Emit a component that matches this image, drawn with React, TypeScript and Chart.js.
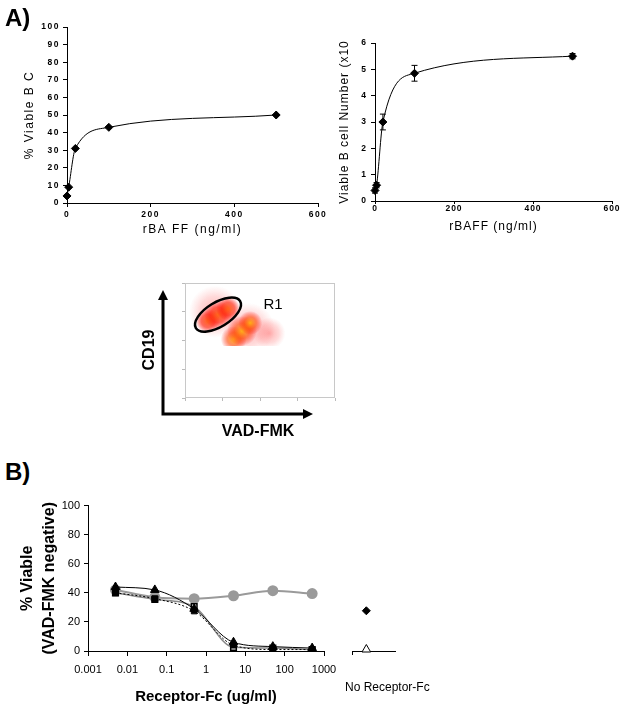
import React, { useEffect, useRef } from 'react';
import { Chart, registerables } from 'chart.js';

Chart.register(...registerables);

const FONT = "'Liberation Sans', Arial, Helvetica, sans-serif";

// ---------- Panel A : rBAFF dose response ----------
const baffConcentration = [0, 4, 20, 100, 500];
const viableBCellPercent = [4, 9, 31, 43, 50];
const viableBCellNumber = [0.4, 0.6, 3.0, 4.85, 5.5];
const viableBCellNumberErr = [0.1, 0.1, 0.3, 0.3, 0.1];
const panelAXTicks = [0, 200, 400, 600];
const percentTicks = [0, 10, 20, 30, 40, 50, 60, 70, 80, 90, 100];
const numberTicks = [0, 1, 2, 3, 4, 5, 6];

// ---------- Flow cytometry plot (log decades 0..4) ----------
const flowTicks = [0, 1, 2, 3, 4];
const haloX = [0.8, 1.7, 2.25];
const haloY = [3.0, 2.4, 2.25];
const haloR = [26, 26, 16];
const liveX = [0.61, 0.88, 1.15];
const liveY = [2.68, 2.89, 3.1];
const liveR = [12, 14, 12];
const apoptoticX = [1.3, 1.52, 1.74];
const apoptoticY = [2.05, 2.33, 2.61];
const apoptoticR = [13, 15, 12];
const gateAxisX = [0.29, 1.47];
const gateAxisY = [2.43, 3.37];
const gateMinorRatio = 0.47;

// ---------- Panel B : Receptor-Fc inhibition ----------
const receptorFcConc = [0.005, 0.05, 0.5, 5, 50, 500];
const controlFc = [42, 37, 36, 38, 41.5, 39.5];
const receptorTriangle = [44, 42, 29, 6, 3, 2];
const receptorOpenSquare = [40, 35.5, 30.5, 2.5, 2, 1];
const receptorFilledSquare = [40, 36, 27.5, 4, 1, 1];
const logTicks = [0.001, 0.01, 0.1, 1, 10, 100, 1000];
const viableTicks = [0, 20, 40, 60, 80, 100];
const noReceptorX = [1];
const noReceptorFilled = [27];
const noReceptorOpen = [1];
const noReceptorAxisTicks = [0];

const pts = (xs: number[], ys: number[]) => xs.map((x, i) => ({ x, y: ys[i] }));
const bubbles = (xs: number[], ys: number[], rs: number[]) => xs.map((x, i) => ({ x, y: ys[i], r: rs[i] }));
const setTicks = (vals: number[]) => (ax: any) => { ax.ticks = vals.map((v) => ({ value: v })); };

const spacingPlugin = (px: number) => ({
  id: 'spacing',
  beforeDraw(chart: any) { chart.ctx.letterSpacing = px + 'px'; },
  afterDraw(chart: any) { chart.ctx.letterSpacing = '0px'; },
});

const errorBarPlugin = {
  id: 'errorBars',
  afterDatasetsDraw(chart: any) {
    const ctx = chart.ctx;
    chart.data.datasets.forEach((ds: any, i: number) => {
      if (!ds.errors) return;
      const meta = chart.getDatasetMeta(i);
      const ys = chart.scales.y;
      ctx.save();
      ctx.strokeStyle = '#000';
      ctx.lineWidth = 1;
      meta.data.forEach((pt: any, j: number) => {
        const v = ds.data[j].y;
        const e = ds.errors[j];
        const t = ys.getPixelForValue(v + e);
        const b = ys.getPixelForValue(v - e);
        ctx.beginPath();
        ctx.moveTo(pt.x, t); ctx.lineTo(pt.x, b);
        ctx.moveTo(pt.x - 3, t); ctx.lineTo(pt.x + 3, t);
        ctx.moveTo(pt.x - 3, b); ctx.lineTo(pt.x + 3, b);
        ctx.stroke();
      });
      ctx.restore();
    });
  },
};

function radial(stops: [number, string][]) {
  return (c: any) => {
    const raw = c.raw;
    const ch = c.chart;
    if (!raw || !ch.scales || !ch.scales.x || !ch.scales.y) return stops[1][1];
    const x = ch.scales.x.getPixelForValue(raw.x);
    const y = ch.scales.y.getPixelForValue(raw.y);
    if (!Number.isFinite(x) || !Number.isFinite(y)) return stops[1][1];
    const g = ch.ctx.createRadialGradient(x, y, 0, x, y, Math.max(raw.r, 1));
    stops.forEach(([o, col]) => g.addColorStop(o, col));
    return g;
  };
}

const flowDecor = {
  id: 'flowDecor',
  beforeDatasetsDraw(chart: any) {
    const { ctx, chartArea: a } = chart;
    ctx.save();
    ctx.strokeStyle = '#c8c8c8';
    ctx.lineWidth = 1;
    ctx.strokeRect(a.left + 0.5, a.top + 0.5, a.width - 1, a.height - 1);
    ctx.restore();
  },
  afterDatasetsDraw(chart: any) {
    const { ctx, chartArea: a, scales } = chart;
    const sx = scales.x, sy = scales.y;
    const x1 = sx.getPixelForValue(gateAxisX[0]), y1 = sy.getPixelForValue(gateAxisY[0]);
    const x2 = sx.getPixelForValue(gateAxisX[1]), y2 = sy.getPixelForValue(gateAxisY[1]);
    const major = Math.hypot(x2 - x1, y2 - y1) / 2;
    ctx.save();
    ctx.beginPath();
    ctx.ellipse((x1 + x2) / 2, (y1 + y2) / 2, major, major * gateMinorRatio, Math.atan2(y2 - y1, x2 - x1), 0, Math.PI * 2);
    ctx.lineWidth = 2.5;
    ctx.strokeStyle = '#000';
    ctx.stroke();
    const ox = a.left - 22, oy = a.bottom + 16;
    const topTip = a.top + 7, rightTip = a.left + 128;
    ctx.lineWidth = 3;
    ctx.beginPath();
    ctx.moveTo(ox, oy); ctx.lineTo(ox, topTip + 8);
    ctx.moveTo(ox - 1.5, oy); ctx.lineTo(rightTip - 8, oy);
    ctx.stroke();
    ctx.fillStyle = '#000';
    ctx.beginPath();
    ctx.moveTo(ox, topTip); ctx.lineTo(ox - 5, topTip + 10); ctx.lineTo(ox + 5, topTip + 10); ctx.closePath();
    ctx.fill();
    ctx.beginPath();
    ctx.moveTo(rightTip, oy); ctx.lineTo(rightTip - 10, oy - 5); ctx.lineTo(rightTip - 10, oy + 5); ctx.closePath();
    ctx.fill();
    ctx.textAlign = 'center';
    ctx.textBaseline = 'middle';
    ctx.font = `bold 16px ${FONT}`;
    ctx.fillText('VAD-FMK', a.left + 73, a.bottom + 34);
    ctx.save();
    ctx.translate(a.left - 35, a.top + 67);
    ctx.rotate(-Math.PI / 2);
    ctx.fillText('CD19', 0, 0);
    ctx.restore();
    ctx.font = `15px ${FONT}`;
    ctx.fillText('R1', a.left + 88, a.top + 22);
    ctx.restore();
  },
};

const base = { responsive: false, animation: false as const, devicePixelRatio: 1, events: [] as any[] };
const noLegend = { legend: { display: false }, tooltip: { enabled: false } };

function makeALeft() {
  return {
    type: 'line',
    data: {
      datasets: [{
        data: pts(baffConcentration, viableBCellPercent),
        borderColor: '#000', borderWidth: 1, cubicInterpolationMode: 'monotone',
        pointStyle: 'rectRot', pointRadius: 4, pointBackgroundColor: '#000', pointBorderColor: '#000', clip: false,
      }],
    },
    options: {
      ...base,
      layout: { padding: { left: 0, top: 17, right: 12, bottom: 0 } },
      plugins: noLegend,
      scales: {
        x: {
          type: 'linear', min: 0, max: 600, afterBuildTicks: setTicks(panelAXTicks),
          afterFit: (s: any) => { s.height = 47; },
          grid: { drawOnChartArea: false, color: '#000', tickLength: 4 },
          border: { color: '#000' },
          ticks: { font: { family: FONT, size: 8.5, weight: 'bold' }, color: '#000', padding: 3, maxRotation: 0, autoSkip: false },
          title: { display: true, text: 'rBA FF (ng/ml)', font: { family: FONT, size: 12 }, color: '#000', padding: { top: 0, bottom: 12.8 } },
        },
        y: {
          type: 'linear', min: 0, max: 100, afterBuildTicks: setTicks(percentTicks),
          afterFit: (s: any) => { s.width = 67; },
          grid: { drawOnChartArea: false, color: '#000', tickLength: 4 },
          border: { color: '#000' },
          ticks: { font: { family: FONT, size: 8.5, weight: 'bold' }, color: '#000', padding: 3, autoSkip: false },
          title: { display: true, text: '% Viable B C', font: { family: FONT, size: 12 }, color: '#000', padding: { top: 22.8, bottom: 0 } },
        },
      },
    },
    plugins: [spacingPlugin(1.5)],
  };
}

function makeARight() {
  return {
    type: 'line',
    data: {
      datasets: [{
        data: pts(baffConcentration, viableBCellNumber), errors: viableBCellNumberErr,
        borderColor: '#000', borderWidth: 1, cubicInterpolationMode: 'monotone',
        pointStyle: 'rectRot', pointRadius: 4, pointBackgroundColor: '#000', pointBorderColor: '#000', clip: false,
      }],
    },
    options: {
      ...base,
      layout: { padding: { left: 0, top: 23, right: 12, bottom: 0 } },
      plugins: noLegend,
      scales: {
        x: {
          type: 'linear', min: 0, max: 600, afterBuildTicks: setTicks(panelAXTicks),
          afterFit: (s: any) => { s.height = 49; },
          grid: { drawOnChartArea: false, color: '#000', tickLength: 3 },
          border: { color: '#000' },
          ticks: { font: { family: FONT, size: 8.5, weight: 'bold' }, color: '#000', padding: 0, maxRotation: 0, autoSkip: false },
          title: { display: true, text: 'rBAFF (ng/ml)', font: { family: FONT, size: 12 }, color: '#000', padding: { top: 0, bottom: 15.8 } },
        },
        y: {
          type: 'linear', min: 0, max: 6, afterBuildTicks: setTicks(numberTicks),
          afterFit: (s: any) => { s.width = 55; },
          grid: { drawOnChartArea: false, color: '#000', tickLength: 4 },
          border: { color: '#000' },
          ticks: { font: { family: FONT, size: 8.5, weight: 'bold' }, color: '#000', padding: 4, autoSkip: false },
          title: { display: true, text: 'Viable B cell Number (x10', font: { family: FONT, size: 12 }, color: '#000', padding: { top: 17.8, bottom: 0 } },
        },
      },
    },
    plugins: [spacingPlugin(1), errorBarPlugin],
  };
}

const flowClip = { left: 0, top: 0, right: 0, bottom: -52 };

function makeFlow() {
  return {
    type: 'bubble',
    data: {
      datasets: [
        {
          label: 'R1 (viable)', data: bubbles(liveX, liveY, liveR), borderWidth: 0, clip: flowClip,
          backgroundColor: radial([[0, 'rgba(255,90,0,0.85)'], [0.55, 'rgba(255,25,0,0.6)'], [1, 'rgba(255,0,0,0)']]),
        },
        {
          label: 'apoptotic', data: bubbles(apoptoticX, apoptoticY, apoptoticR), borderWidth: 0, clip: flowClip,
          backgroundColor: radial([[0, 'rgba(255,180,0,0.85)'], [0.5, 'rgba(255,70,0,0.6)'], [1, 'rgba(255,0,0,0)']]),
        },
        {
          label: 'halo', data: bubbles(haloX, haloY, haloR), borderWidth: 0, clip: flowClip,
          backgroundColor: radial([[0, 'rgba(255,30,30,0.35)'], [0.6, 'rgba(255,50,50,0.18)'], [1, 'rgba(255,80,80,0)']]),
        },
      ],
    },
    options: {
      ...base,
      layout: { padding: { left: 0, top: 30, right: 30, bottom: 0 } },
      plugins: noLegend,
      scales: {
        x: {
          type: 'linear', min: 0, max: 4, afterBuildTicks: setTicks(flowTicks),
          afterFit: (s: any) => { s.height = 47; },
          grid: { drawOnChartArea: false, color: '#bbb', tickLength: 3 },
          border: { display: false },
          ticks: { display: false },
        },
        y: {
          type: 'linear', min: 0, max: 4, afterBuildTicks: setTicks(flowTicks),
          afterFit: (s: any) => { s.width = 55; },
          grid: { drawOnChartArea: false, color: '#bbb', tickLength: 3 },
          border: { display: false },
          ticks: { display: false },
        },
      },
    },
    plugins: [flowDecor],
  };
}

function makeB() {
  return {
    type: 'line',
    data: {
      datasets: [
        {
          label: 'Receptor-Fc (triangle)', data: pts(receptorFcConc, receptorTriangle),
          borderColor: '#000', borderWidth: 1, cubicInterpolationMode: 'monotone',
          pointStyle: 'triangle', pointRadius: 5, pointBackgroundColor: '#000', pointBorderColor: '#000',
        },
        {
          label: 'Receptor-Fc (filled square)', data: pts(receptorFcConc, receptorFilledSquare),
          borderColor: '#000', borderWidth: 1, borderDash: [2, 2], cubicInterpolationMode: 'monotone',
          pointStyle: 'rect', pointRadius: 4, pointBackgroundColor: '#000', pointBorderColor: '#000',
        },
        {
          label: 'Receptor-Fc (open square)', data: pts(receptorFcConc, receptorOpenSquare),
          borderColor: '#888', borderWidth: 1.5, cubicInterpolationMode: 'monotone',
          pointStyle: 'rect', pointRadius: 4, pointBackgroundColor: '#fff', pointBorderColor: '#000', pointBorderWidth: 1.5,
        },
        {
          label: 'Control Fc', data: pts(receptorFcConc, controlFc),
          borderColor: '#9a9a9a', borderWidth: 2, cubicInterpolationMode: 'monotone',
          pointStyle: 'circle', pointRadius: 4.5, pointBackgroundColor: '#9a9a9a', pointBorderColor: '#9a9a9a',
        },
      ],
    },
    options: {
      ...base,
      layout: { padding: { left: 0, top: 7, right: 21, bottom: 0 } },
      plugins: noLegend,
      scales: {
        x: {
          type: 'logarithmic', min: 0.001, max: 1000, afterBuildTicks: setTicks(logTicks),
          afterFit: (s: any) => { s.height = 58; },
          grid: { drawOnChartArea: false, color: '#000', tickLength: 5 },
          border: { color: '#000' },
          ticks: { font: { family: FONT, size: 11 }, color: '#000', padding: 7.4, maxRotation: 0, autoSkip: false, callback: (v: any) => String(v) },
          title: { display: true, text: 'Receptor-Fc (ug/ml)', font: { family: FONT, size: 15, weight: 'bold' }, color: '#000', padding: { top: 0, bottom: 3 } },
        },
        y: {
          type: 'linear', min: 0, max: 100, afterBuildTicks: setTicks(viableTicks),
          afterFit: (s: any) => { s.width = 88; },
          grid: { drawOnChartArea: false, color: '#000', tickLength: 4 },
          border: { color: '#000' },
          ticks: { font: { family: FONT, size: 11 }, color: '#000', padding: 4, autoSkip: false },
          title: { display: true, text: ['% Viable', '(VAD-FMK negative)'], font: { family: FONT, size: 16, weight: 'bold', lineHeight: '22px' }, color: '#000', padding: { top: 17, bottom: 0 } },
        },
      },
    },
  };
}

function makeNoReceptor() {
  return {
    type: 'line',
    data: {
      datasets: [
        {
          label: 'No Receptor-Fc (filled)', data: pts(noReceptorX, noReceptorFilled), showLine: false,
          pointStyle: 'rectRot', pointRadius: 4, pointBackgroundColor: '#000', pointBorderColor: '#000', clip: false,
        },
        {
          label: 'No Receptor-Fc (open)', data: pts(noReceptorX, noReceptorOpen), showLine: false,
          pointStyle: 'triangle', pointRadius: 5, pointBackgroundColor: '#fff', pointBorderColor: '#000', pointBorderWidth: 1, clip: false,
        },
      ],
    },
    options: {
      ...base,
      layout: { padding: { left: 12, top: 7, right: 15, bottom: 0 } },
      plugins: noLegend,
      scales: {
        x: {
          type: 'linear', min: 0, max: 3, afterBuildTicks: setTicks(noReceptorAxisTicks),
          afterFit: (s: any) => { s.height = 58; },
          grid: { drawOnChartArea: false, color: '#000', tickLength: 4 },
          border: { color: '#000' },
          ticks: { display: false },
        },
        y: { type: 'linear', min: 0, max: 100, display: false },
      },
    },
  };
}

function ChartCanvas({ left, top, width, height, make }: { left: number; top: number; width: number; height: number; make: () => any }) {
  const ref = useRef<HTMLCanvasElement | null>(null);
  useEffect(() => {
    if (!ref.current) return;
    let chart: any = null;
    try {
      chart = new Chart(ref.current, make());
    } catch (e) {
      console.error(e);
    }
    return () => { if (chart) chart.destroy(); };
  }, []);
  return (
    <canvas
      ref={ref}
      width={width}
      height={height}
      style={{ position: 'absolute', left, top, width, height, display: 'block' }}
    />
  );
}

export default function App() {
  return (
    <div style={{ position: 'fixed', left: 0, top: 0, width: 624, height: 709, background: '#fff', fontFamily: FONT, overflow: 'hidden' }}>
      <ChartCanvas left={0} top={10} width={330} height={240} make={makeALeft} />
      <ChartCanvas left={320} top={20} width={304} height={230} make={makeARight} />
      <ChartCanvas left={130} top={253} width={235} height={192} make={makeFlow} />
      <ChartCanvas left={0} top={495} width={345} height={214} make={makeB} />
      <ChartCanvas left={340} top={495} width={70} height={214} make={makeNoReceptor} />
      <div style={{ position: 'absolute', left: 5, top: 6, font: `bold 24px ${FONT}`, lineHeight: 1, color: '#000' }}>A)</div>
      <div style={{ position: 'absolute', left: 5, top: 460, font: `bold 24px ${FONT}`, lineHeight: 1, color: '#000' }}>B)</div>
      <div style={{ position: 'absolute', left: 345, top: 680, font: `12px ${FONT}`, lineHeight: '14px', color: '#000', whiteSpace: 'nowrap' }}>No Receptor-Fc</div>
    </div>
  );
}
